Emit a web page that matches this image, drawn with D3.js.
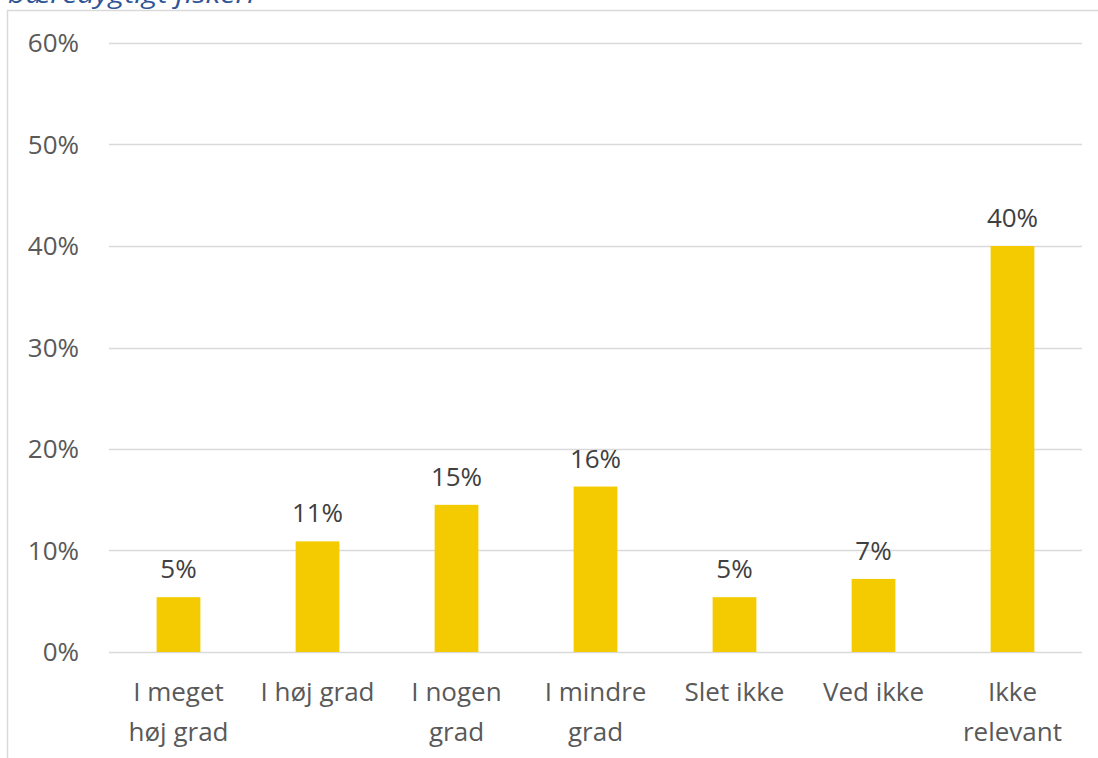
<!DOCTYPE html>
<html>
<head>
<meta charset="utf-8">
<script src="https://cdn.jsdelivr.net/npm/d3@7"></script>
<style>
  body { margin: 0; background: #fff; }
  svg { display: block; }
  text { font-family: "Open Sans", "Liberation Sans", sans-serif; }
</style>
</head>
<body>
<svg id="chart" width="1098" height="758"></svg>
<script>
// ---- data ----
var categories = ["I meget høj grad", "I høj grad", "I nogen grad", "I mindre grad", "Slet ikke", "Ved ikke", "Ikke relevant"];
var categoryLines = [["I meget", "høj grad"], ["I høj grad"], ["I nogen", "grad"], ["I mindre", "grad"], ["Slet ikke"], ["Ved ikke"], ["Ikke", "relevant"]];
var values = [0.054, 0.109, 0.145, 0.163, 0.054, 0.072, 0.400];
var valueLabels = ["5%", "11%", "15%", "16%", "5%", "7%", "40%"];
var yTicks = [0, 0.1, 0.2, 0.3, 0.4, 0.5, 0.6];

var svg = d3.select("#chart"),
    width = +svg.attr("width"),
    height = +svg.attr("height");

var margin = {left: 109, right: 16, top: 43, bottom: 106};

// chart frame (partly cropped)
svg.append("path")
    .attr("d", "M7.5," + height + "V10.5H" + width)
    .attr("fill", "none")
    .attr("stroke", "#d9d9d9")
    .attr("stroke-width", 1.5);

// cropped title
svg.append("text")
    .attr("x", 8)
    .attr("y", 3)
    .attr("font-family", "'DejaVu Serif', 'Liberation Serif', serif")
    .attr("font-style", "italic")
    .attr("font-size", 26)
    .attr("fill", "#2f5597")
    .attr("textLength", 247)
    .attr("lengthAdjust", "spacingAndGlyphs")
    .text("bæredygtigt fiskeri");

var x = d3.scaleBand()
    .domain(categories)
    .range([margin.left, width - margin.right])
    .paddingInner(0.685)
    .paddingOuter(0.3425);

var y = d3.scaleLinear()
    .domain([0, 0.6])
    .range([height - margin.bottom, margin.top]);

// gridlines
svg.append("g")
    .selectAll("line")
    .data(yTicks)
    .join("line")
    .attr("x1", margin.left)
    .attr("x2", width - margin.right)
    .attr("y1", function (d) { return Math.round(y(d)) + 0.5; })
    .attr("y2", function (d) { return Math.round(y(d)) + 0.5; })
    .attr("stroke", "#d9d9d9")
    .attr("stroke-width", 1.5);

// y labels
svg.append("g")
    .selectAll("text")
    .data(yTicks)
    .join("text")
    .attr("x", 79)
    .attr("y", function (d) { return y(d); })
    .attr("dy", "0.35em")
    .attr("text-anchor", "end")
    .attr("font-size", 26)
    .attr("fill", "#595959")
    .text(d3.format(".0%"));

// bars
svg.append("g")
    .selectAll("rect")
    .data(values)
    .join("rect")
    .attr("x", function (d, i) { return x(categories[i]); })
    .attr("y", function (d) { return y(d); })
    .attr("width", x.bandwidth())
    .attr("height", function (d) { return y(0) - y(d); })
    .attr("fill", "#f4cb00");

// value labels
svg.append("g")
    .selectAll("text")
    .data(values)
    .join("text")
    .attr("x", function (d, i) { return x(categories[i]) + x.bandwidth() / 2; })
    .attr("y", function (d) { return y(d) - 19; })
    .attr("text-anchor", "middle")
    .attr("font-size", 26)
    .attr("fill", "#404040")
    .text(function (d, i) { return valueLabels[i]; });

// category labels
var cat = svg.append("g")
    .selectAll("text")
    .data(categories)
    .join("text")
    .attr("x", function (d) { return x(d) + x.bandwidth() / 2; })
    .attr("y", 701)
    .attr("text-anchor", "middle")
    .attr("font-size", 26)
    .attr("fill", "#595959");

cat.selectAll("tspan")
    .data(function (d, i) { return categoryLines[i]; })
    .join("tspan")
    .attr("x", function () { return d3.select(this.parentNode).attr("x"); })
    .attr("dy", function (d, i) { return i === 0 ? 0 : 40; })
    .text(function (d) { return d; });
</script>
</body>
</html>
